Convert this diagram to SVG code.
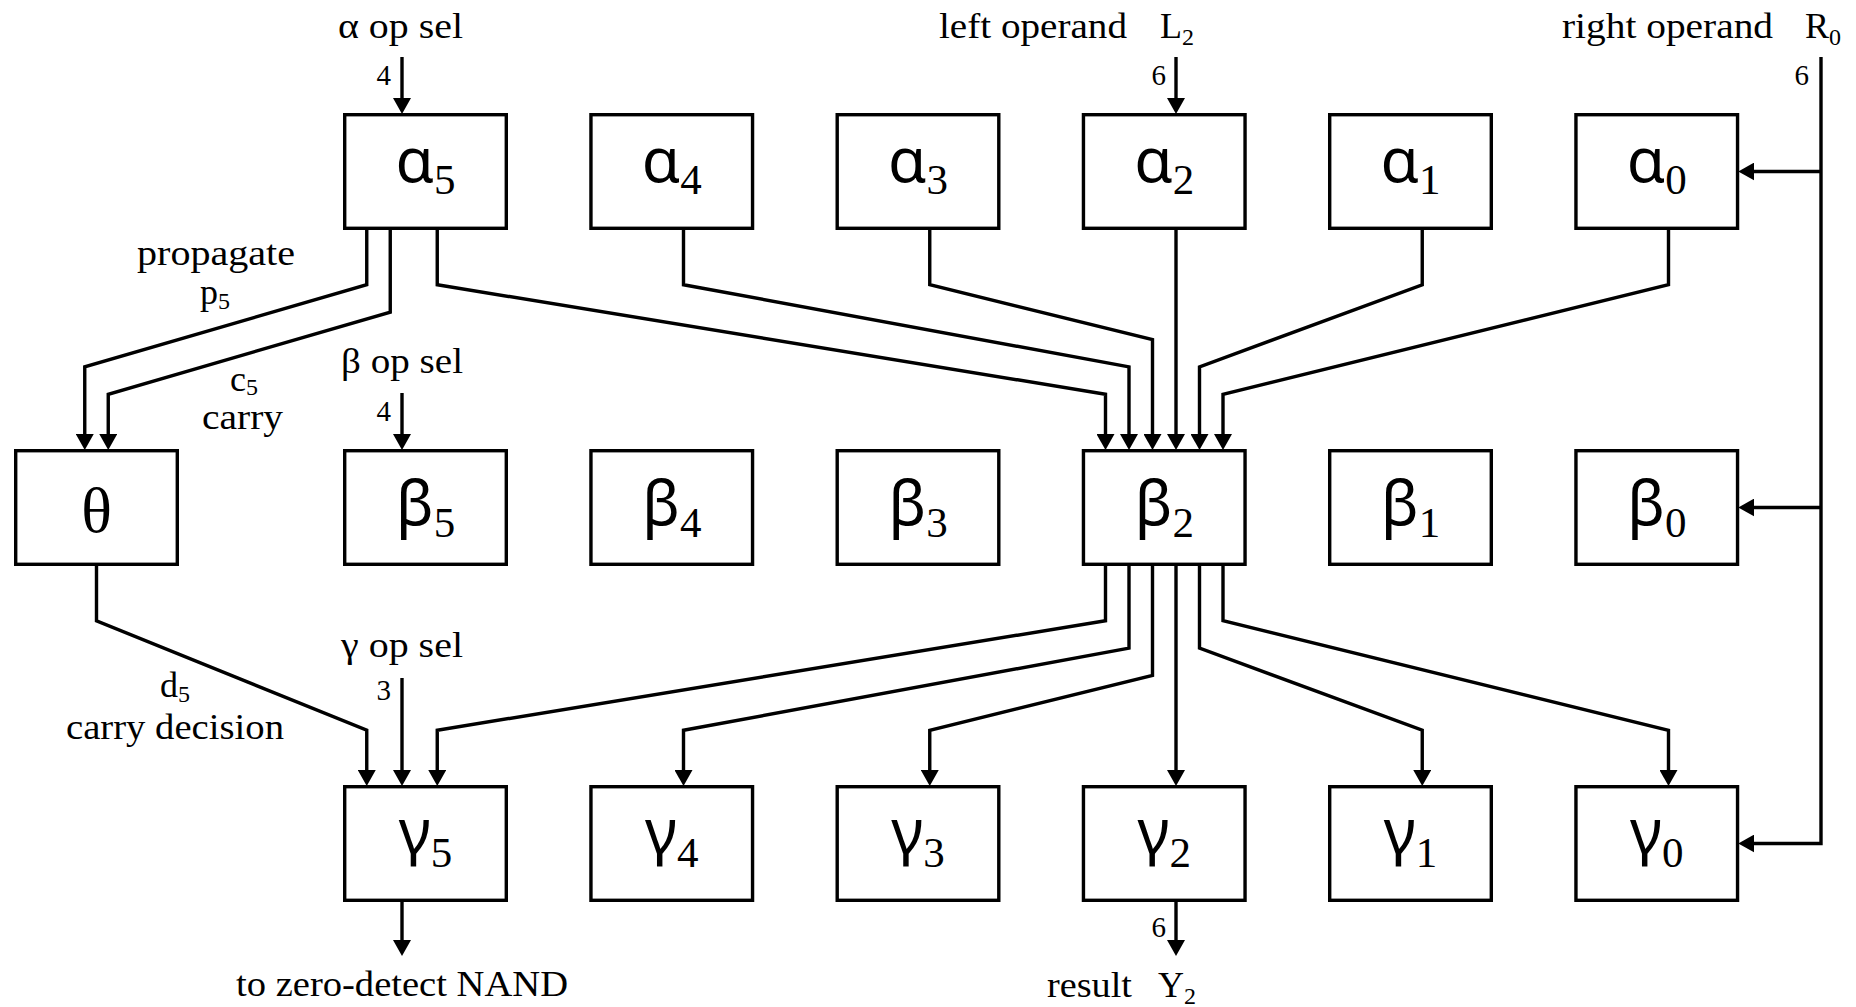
<svg xmlns="http://www.w3.org/2000/svg" width="1856" height="1007" viewBox="0 0 1856 1007">
  <style>
    .box { fill: #ffffff; stroke: #000000; stroke-width: 3.4; }
    .wire { fill: none; stroke: #000000; stroke-width: 3.4; stroke-linejoin: miter; }
    .arr { marker-end: url(#head); }
    .lbl { font-family: "Liberation Serif", "DejaVu Serif", serif; font-size: 36px; fill: #000000; }
    .num { font-family: "Liberation Serif", "DejaVu Serif", serif; font-size: 29px; fill: #000000; text-anchor: end; }
    .sub { font-size: 24px; }
    .greek { font-family: "Noto Sans", "DejaVu Sans", sans-serif; font-size: 62px; fill: #000000; text-anchor: middle; }
    .idx { font-family: "Liberation Serif", "DejaVu Serif", serif; font-size: 43px; }
    .theta { font-family: "Liberation Serif", "DejaVu Serif", serif; font-size: 64px; fill: #000000; text-anchor: middle; }
  </style>
  <defs>
    <marker id="head" viewBox="0 0 16 18" markerUnits="userSpaceOnUse" markerWidth="16" markerHeight="18" refX="6" refY="9" orient="auto">
      <path d="M0,0 L16,9 L0,18 Z" fill="#000000"/>
    </marker>
  </defs>

  <rect x="0" y="0" width="1856" height="1007" fill="#ffffff"/>

  <!-- alpha row -->
  <g id="alpha5"><rect class="box" x="344.7" y="114.7" width="161.6" height="113.6"/><text class="greek" x="425.5" y="182">α<tspan class="idx" dy="12">5</tspan></text></g>
  <g id="alpha4"><rect class="box" x="590.95" y="114.7" width="161.6" height="113.6"/><text class="greek" x="671.75" y="182">α<tspan class="idx" dy="12">4</tspan></text></g>
  <g id="alpha3"><rect class="box" x="837.2" y="114.7" width="161.6" height="113.6"/><text class="greek" x="918" y="182">α<tspan class="idx" dy="12">3</tspan></text></g>
  <g id="alpha2"><rect class="box" x="1083.45" y="114.7" width="161.6" height="113.6"/><text class="greek" x="1164.25" y="182">α<tspan class="idx" dy="12">2</tspan></text></g>
  <g id="alpha1"><rect class="box" x="1329.7" y="114.7" width="161.6" height="113.6"/><text class="greek" x="1410.5" y="182">α<tspan class="idx" dy="12">1</tspan></text></g>
  <g id="alpha0"><rect class="box" x="1575.95" y="114.7" width="161.6" height="113.6"/><text class="greek" x="1656.75" y="182">α<tspan class="idx" dy="12">0</tspan></text></g>

  <!-- theta and beta row -->
  <g id="theta"><rect class="box" x="15.7" y="450.7" width="161.6" height="113.6"/><text class="theta" x="96.5" y="532">θ</text></g>
  <g id="beta5"><rect class="box" x="344.7" y="450.7" width="161.6" height="113.6"/><text class="greek" x="425.5" y="525">β<tspan class="idx" dy="12">5</tspan></text></g>
  <g id="beta4"><rect class="box" x="590.95" y="450.7" width="161.6" height="113.6"/><text class="greek" x="671.75" y="525">β<tspan class="idx" dy="12">4</tspan></text></g>
  <g id="beta3"><rect class="box" x="837.2" y="450.7" width="161.6" height="113.6"/><text class="greek" x="918" y="525">β<tspan class="idx" dy="12">3</tspan></text></g>
  <g id="beta2"><rect class="box" x="1083.45" y="450.7" width="161.6" height="113.6"/><text class="greek" x="1164.25" y="525">β<tspan class="idx" dy="12">2</tspan></text></g>
  <g id="beta1"><rect class="box" x="1329.7" y="450.7" width="161.6" height="113.6"/><text class="greek" x="1410.5" y="525">β<tspan class="idx" dy="12">1</tspan></text></g>
  <g id="beta0"><rect class="box" x="1575.95" y="450.7" width="161.6" height="113.6"/><text class="greek" x="1656.75" y="525">β<tspan class="idx" dy="12">0</tspan></text></g>

  <!-- gamma row -->
  <g id="gamma5"><rect class="box" x="344.7" y="786.7" width="161.6" height="113.6"/><text class="greek" x="425.5" y="853">γ<tspan class="idx" dy="14">5</tspan></text></g>
  <g id="gamma4"><rect class="box" x="590.95" y="786.7" width="161.6" height="113.6"/><text class="greek" x="671.75" y="853">γ<tspan class="idx" dy="14">4</tspan></text></g>
  <g id="gamma3"><rect class="box" x="837.2" y="786.7" width="161.6" height="113.6"/><text class="greek" x="918" y="853">γ<tspan class="idx" dy="14">3</tspan></text></g>
  <g id="gamma2"><rect class="box" x="1083.45" y="786.7" width="161.6" height="113.6"/><text class="greek" x="1164.25" y="853">γ<tspan class="idx" dy="14">2</tspan></text></g>
  <g id="gamma1"><rect class="box" x="1329.7" y="786.7" width="161.6" height="113.6"/><text class="greek" x="1410.5" y="853">γ<tspan class="idx" dy="14">1</tspan></text></g>
  <g id="gamma0"><rect class="box" x="1575.95" y="786.7" width="161.6" height="113.6"/><text class="greek" x="1656.75" y="853">γ<tspan class="idx" dy="14">0</tspan></text></g>

  <!-- wiring -->
  <g id="connectors">
    <!-- select inputs -->
    <path class="wire arr" d="M402,57 V104"/>
    <path class="wire arr" d="M402,393 V440"/>
    <path class="wire arr" d="M402,678 V776"/>
    <!-- left operand -->
    <path class="wire arr" d="M1176,57 V104"/>
    <!-- right operand bus -->
    <path class="wire arr" d="M1821,57 V843.5 H1748.25"/>
    <path class="wire arr" d="M1821,171.5 H1748.25"/>
    <path class="wire arr" d="M1821,507.5 H1748.25"/>
    <!-- alpha5 to theta: propagate and carry -->
    <path class="wire arr" d="M366.75,230 V284.75 L84.75,366.9 V440"/>
    <path class="wire arr" d="M390.25,230 V312.1 L108.25,394.25 V440"/>
    <!-- alpha row into beta2 -->
    <path class="wire arr" d="M437.25,230 V284.75 L1105.5,394.25 V440"/>
    <path class="wire arr" d="M683.5,230 V284.75 L1129,366.9 V440"/>
    <path class="wire arr" d="M929.75,230 V284.75 L1152.5,339.5 V440"/>
    <path class="wire arr" d="M1176,230 V440"/>
    <path class="wire arr" d="M1422.25,230 V284.75 L1199.5,366.9 V440"/>
    <path class="wire arr" d="M1668.5,230 V284.75 L1223,394.25 V440"/>
    <!-- beta2 fan-out to gamma row -->
    <path class="wire arr" d="M1105.5,566 V620.75 L437.25,730.25 V776"/>
    <path class="wire arr" d="M1129,566 V648.1 L683.5,730.25 V776"/>
    <path class="wire arr" d="M1152.5,566 V675.5 L929.75,730.25 V776"/>
    <path class="wire arr" d="M1176,566 V776"/>
    <path class="wire arr" d="M1199.5,566 V648.1 L1422.25,730.25 V776"/>
    <path class="wire arr" d="M1223,566 V620.75 L1668.5,730.25 V776"/>
    <!-- theta carry decision to gamma5 -->
    <path class="wire arr" d="M96.5,566 V620.75 L366.75,730.25 V776"/>
    <!-- outputs -->
    <path class="wire arr" d="M402,902 V946"/>
    <path class="wire arr" d="M1176,902 V946"/>
  </g>

  <!-- labels -->
  <g id="labels">
    <text class="lbl" x="338" y="38" textLength="125" lengthAdjust="spacingAndGlyphs">α op sel</text>
    <text class="num" x="391" y="85">4</text>
    <text class="lbl" x="939" y="38" textLength="188" lengthAdjust="spacingAndGlyphs">left operand</text>
    <text class="lbl" x="1160" y="38">L<tspan class="sub" dy="7">2</tspan></text>
    <text class="num" x="1166" y="85">6</text>
    <text class="lbl" x="1562" y="38" textLength="211" lengthAdjust="spacingAndGlyphs">right operand</text>
    <text class="lbl" x="1805" y="38">R<tspan class="sub" dy="7">0</tspan></text>
    <text class="num" x="1809" y="85">6</text>

    <text class="lbl" x="137" y="265" textLength="158" lengthAdjust="spacingAndGlyphs">propagate</text>
    <text class="lbl" x="200" y="304">p<tspan class="sub" dy="5">5</tspan></text>
    <text class="lbl" x="230" y="391">c<tspan class="sub" dy="4">5</tspan></text>
    <text class="lbl" x="202" y="429" textLength="81" lengthAdjust="spacingAndGlyphs">carry</text>
    <text class="lbl" x="341" y="373" textLength="122" lengthAdjust="spacingAndGlyphs">β op sel</text>
    <text class="num" x="391" y="421">4</text>

    <text class="lbl" x="341" y="657" textLength="122" lengthAdjust="spacingAndGlyphs">γ op sel</text>
    <text class="num" x="391" y="700">3</text>
    <text class="lbl" x="160" y="697">d<tspan class="sub" dy="5">5</tspan></text>
    <text class="lbl" x="66" y="739" textLength="218" lengthAdjust="spacingAndGlyphs">carry decision</text>

    <text class="lbl" x="236" y="996" textLength="332" lengthAdjust="spacingAndGlyphs">to zero-detect NAND</text>
    <text class="num" x="1166" y="937">6</text>
    <text class="lbl" x="1047" y="997" textLength="85" lengthAdjust="spacingAndGlyphs">result</text>
    <text class="lbl" x="1158" y="997">Y<tspan class="sub" dy="7">2</tspan></text>
  </g>
</svg>
